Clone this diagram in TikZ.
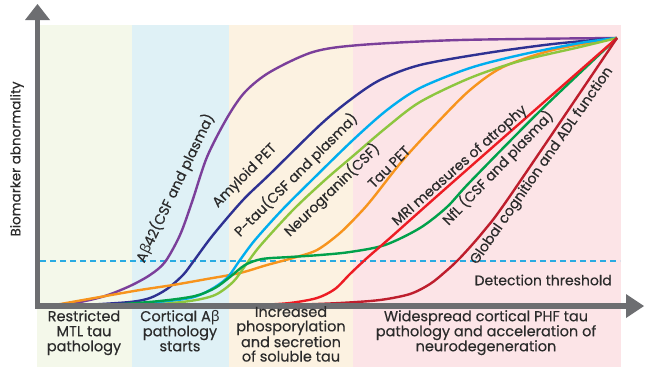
\documentclass[tikz,border=0pt]{standalone}
\usepackage{fontspec}
\setmainfont{Poppins}[FakeBold=0.35]
\newfontfamily\grk{Noto Sans}
\newcommand{\bet}{{\grk β}}
\definecolor{axisgray}{HTML}{6D6E71}
\definecolor{bandA}{HTML}{F4F8EA}
\definecolor{bandB}{HTML}{DFF1F6}
\definecolor{bandC}{HTML}{FCF2E1}
\definecolor{bandD}{HTML}{FCE4E7}
\definecolor{cpurple}{HTML}{7B3F9A}
\definecolor{cnavy}{HTML}{2E3192}
\definecolor{ccyan}{HTML}{00AEEF}
\definecolor{clgreen}{HTML}{8DC63F}
\definecolor{corange}{HTML}{F7941D}
\definecolor{cdgreen}{HTML}{00A14B}
\definecolor{cred}{HTML}{ED1C24}
\definecolor{cdred}{HTML}{BE1E2D}
\definecolor{cdash}{HTML}{29ABE2}
\definecolor{txt}{HTML}{2B2B2B}
\begin{document}
\begin{tikzpicture}[x=1pt,y=-1pt,
  curve/.style={line width=2.4pt},
  lbl/.style={font=\fontsize{14}{14}\selectfont, text=txt, inner sep=0pt},
  phase/.style={font=\fontsize{14.5}{15}\selectfont, text=txt, align=center, inner sep=0pt, anchor=north}]
\useasboundingbox (0,0) rectangle (646,367);
\fill[white] (0,0) rectangle (646,367);
% bands
\fill[bandA] (37,25) rectangle (132,367);
\fill[bandB] (132,25) rectangle (229,367);
\fill[bandC] (229,25) rectangle (353,367);
\fill[bandD] (353,25) rectangle (621,367);
% threshold
\coordinate (t1) at (40,261);
\coordinate (t2) at (620,261);
\draw[cdash, line width=1.1pt, dash pattern=on 6pt off 4pt] (t1) -- (t2);
\coordinate (P) at (617,38);
% curves
\draw[cpurple, curve] plot[smooth, tension=0.5] coordinates {(55,305)(80,302)(105,296)(130,286)(150,275)(165,262)(180,235)(192,202)(207,157)(227,118)(245,92)(270,72)(313,52)(360,45)(460,40)(617,38)};
\draw[cnavy, curve] plot[smooth, tension=0.5] coordinates {(85,305)(130,302)(150,298)(167,289)(183,275)(193,262)(213,235)(243,200)(270,174)(320,125)(350,100)(380,80)(420,65)(487,53)(553,44)(617,38)};
\draw[corange, curve] plot[smooth, tension=0.5] coordinates {(55,305)(100,297)(140,290)(173,285)(207,279)(240,273)(267,265)(293,258)(317,250)(340,233)(360,213)(373,198)(403,160)(437,123)(470,90)(503,67)(553,50)(617,38)};
\draw[ccyan, curve] plot[smooth, tension=0.5] coordinates {(110,305)(150,303)(190,298)(210,290)(227,278)(240,260)(255,240)(282,210)(312,180)(353,140)(387,110)(420,88)(470,68)(520,55)(580,43)(617,38)};
\draw[clgreen, curve] plot[smooth, tension=0.5] coordinates {(150,305)(190,301)(215,295)(233,282)(245,266)(260,246)(293,210)(325,180)(353,156)(387,127)(420,102)(470,78)(520,61)(580,47)(617,38)};
\draw[cdgreen, curve] plot[smooth, tension=0.5] coordinates {(110,305)(160,301)(195,296)(215,288)(230,277)(245,265)(262,259)(290,257)(320,255)(350,252)(385,245)(420,228)(447,207)(470,182)(540,111)(617,38)};
\draw[cred, curve] plot[smooth, tension=0.5] coordinates {(260,305)(290,303)(317,298)(335,289)(350,274)(367,258)(390,238)(453,182)(617,38)};
\draw[cdred, curve] plot[smooth, tension=0.5] coordinates {(290,305)(340,303)(380,300)(410,294)(430,284)(445,272)(460,258)(483,232)(510,196)(617,38)};
% axes
\coordinate (ytop) at (37.5,18);
\coordinate (xend) at (628,306);
\draw[axisgray, line width=5.5pt] (37.5,308.75) -- (ytop);
\draw[axisgray, line width=5.5pt] (35,306) -- (xend);
\fill[axisgray] (25,20) -- (37.5,4) -- (50,20) -- cycle;
\fill[axisgray] (626,294) -- (644,306) -- (626,318) -- cycle;
% curve labels
\node[lbl, rotate=64.5] (lab1) at (175,188) {A\bet42(CSF and plasma)};
\node[lbl, rotate=45] (lab2) at (245,176) {Amyloid PET};
\node[lbl, rotate=45] (lab3) at (296,175) {P-tau(CSF and plasma)};
\node[lbl, rotate=44] (lab4) at (332,190) {Neurogranin(CSF)};
\node[lbl, rotate=45] (lab5) at (389,167) {Tau PET};
\node[lbl, rotate=41.5] (lab6) at (460,166) {MRI measures of atrophy};
\node[lbl, rotate=46] (lab7) at (498,168) {NfL (CSF and plasma)};
\node[lbl, rotate=55] (lab8) at (542,166) {Global cognition and ADL function};
\node[lbl, anchor=east] (det) at (612,280) {Detection threshold};
\node[lbl, rotate=90, font=\fontsize{13.5}{14}\selectfont] (ylab) at (17,159) {Biomarker abnormality};
% phase labels
\node[phase] (ph1) at (84,310) {Restricted\\MTL tau\\pathology};
\node[phase] (ph2) at (180,310) {Cortical A\bet\\pathology\\starts};
\node[phase, font=\fontsize{14.5}{14.4}\selectfont] (ph3) at (291,306) {Increased\\phosporylation\\and secretion\\of soluble tau};
\node[phase] (ph4) at (486,310) {Widespread cortical PHF tau\\pathology and acceleration of\\neurodegeneration};
\end{tikzpicture}
\end{document}
